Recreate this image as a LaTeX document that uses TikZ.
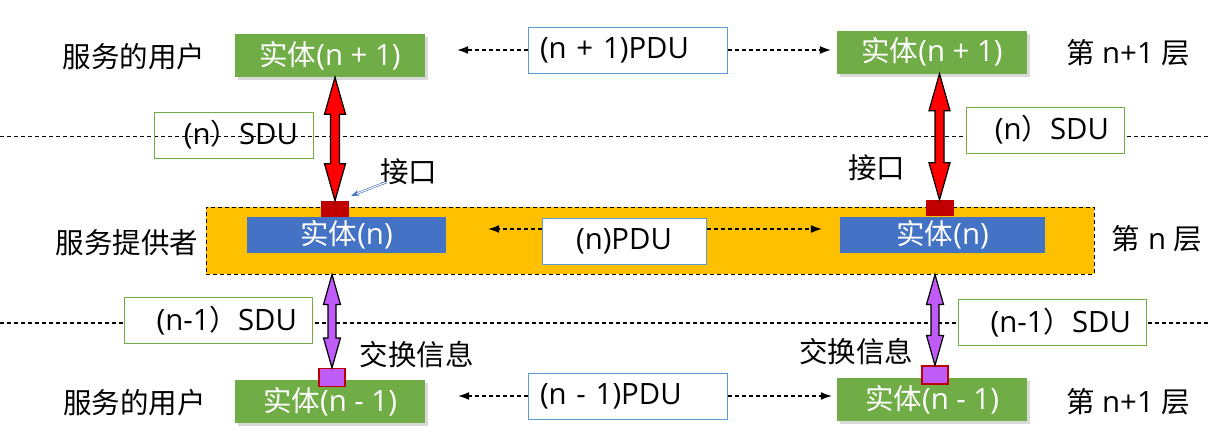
\documentclass[tikz,border=0pt]{standalone}
\usepackage{fontspec}
\setmainfont{Open Sans}[Scale=1.03]
\newfontfamily\cjk{Noto Sans CJK SC}
\usetikzlibrary{arrows.meta,calc,shadows}

\definecolor{entgreen}{HTML}{70AD47}
\definecolor{entblue}{HTML}{4472C4}
\definecolor{bandyellow}{HTML}{FFC000}
\definecolor{portred}{HTML}{C00000}
\definecolor{xpurple}{HTML}{BF5BF7}
\definecolor{pdublue}{HTML}{5B9BD5}

\newcommand{\txtfont}{\fontsize{28.5}{33}\selectfont}

% two-headed block arrow: #1 top, #2 bottom, #3 fill,
% #4 head half width, #5 head length, #6 shaft half width
\newcommand{\blockarrow}[6]{%
  \draw[fill=#3, line width=1.2pt, line join=miter] let \p1=(#1), \p2=(#2) in
    (\x1,\y1) -- (\x1+#4,\y1-#5) -- (\x1+#6,\y1-#5) -- (\x1+#6,\y2+#5)
    -- (\x1+#4,\y2+#5) -- (\x1,\y2) -- (\x1-#4,\y2+#5) -- (\x1-#6,\y2+#5)
    -- (\x1-#6,\y1-#5) -- (\x1-#4,\y1-#5) -- cycle;}

\tikzset{
  entity/.style={fill=entgreen, text=white, minimum width=190pt, minimum height=43pt,
    inner sep=0pt, font=\txtfont,
    drop shadow={shadow xshift=3pt, shadow yshift=-3pt, fill=black!15, opacity=1}},
  nentity/.style={fill=entblue, text=white, minimum height=36pt, inner sep=0pt, font=\txtfont},
  pdubox/.style={draw=pdublue, line width=1pt, fill=white, minimum height=46pt,
    inner sep=0pt, font=\txtfont},
  sdubox/.style={draw=entgreen, line width=1pt, minimum height=46pt, inner xsep=15pt,
    inner ysep=0pt, align=right, font=\txtfont},
  port/.style={fill=portred, minimum width=28pt, minimum height=16pt, inner sep=0pt},
  xport/.style={draw=portred, line width=1.2pt, fill=xpurple, minimum width=26pt,
    minimum height=18pt, inner sep=0pt},
  lbl/.style={inner sep=0pt, font=\txtfont},
  layerline/.style={dash pattern=on 4pt off 3pt, line width=1.2pt},
  pduflow/.style={-{Latex[length=11pt,width=8pt]}, dash pattern=on 4pt off 3pt, line width=1.1pt},
  ptr/.style={entblue, double=white, double distance=1pt, line width=0.6pt,
    -{Stealth[length=8pt,width=6pt]}}
}

\begin{document}
\begin{tikzpicture}[x=1pt, y=-1pt]
  \useasboundingbox (0,0) rectangle (1209,447);

  % layer borders
  \draw[layerline] (0,136.7) -- (1209,136.7);
  \draw[layerline] (0,323) -- (1209,323);

  % layer n+1
  \node[lbl] (userT) at (134,57) {\cjk 服务的用户};
  \node[entity] (ent1L) at (330,55.5) {{\cjk 实体}(n + 1)};
  \node[pdubox, align=left, text width=175pt, inner xsep=12pt] (pdu1) at (627.5,50) {(n + 1)PDU};
  \node[entity] (ent1R) at (932,52) {{\cjk 实体}(n + 1)};
  \node[lbl] (lay1) at (1128,53) {{\cjk 第} n+1 {\cjk 层}};

  \node[sdubox, text width=129pt] (sduTL) at (233.5,135) {(n{\cjk ）}SDU};
  \node[sdubox, fill=white, text width=128pt] (sduTR) at (1045,130) {(n{\cjk ）}SDU};

  % layer n
  \node[draw, fill=bandyellow, dash pattern=on 4pt off 3pt, line width=1pt,
    minimum width=888pt, minimum height=67pt] (band) at (650,240.5) {};
  \node[nentity, minimum width=199pt] (entNL) at (346.5,235) {{\cjk 实体}(n)};
  \node[nentity, minimum width=205pt] (entNR) at (942.5,235) {{\cjk 实体}(n)};
  \node[pdubox, minimum width=164pt] (pduN) at (624,241) {(n)PDU};
  \node[port] (ifL) at (335,209) {};
  \node[port] (ifR) at (939.5,208) {};
  \node[lbl] (ifLabL) at (408.5,172) {\cjk 接口};
  \node[lbl] (ifLabR) at (876.5,168) {\cjk 接口};
  \node[lbl] (prov) at (127,243) {\cjk 服务提供者};
  \node[lbl] (layN) at (1157,239) {{\cjk 第} n {\cjk 层}};

  % layer n-1
  \node[sdubox, fill=white, text width=158pt] (sduBL) at (218,320.5) {(n-1{\cjk ）}SDU};
  \node[sdubox, fill=white, text width=158pt] (sduBR) at (1052,322.5) {(n-1{\cjk ）}SDU};
  \node[entity] (ent0L) at (330,401.5) {{\cjk 实体}(n - 1)};
  \node[entity] (ent0R) at (932,399.5) {{\cjk 实体}(n - 1)};
  \node[pdubox, align=left, text width=175pt, inner xsep=12pt] (pdu0) at (627.5,396) {(n - 1)PDU};
  \node[xport] (exL) at (332,377.5) {};
  \node[xport] (exR) at (935,375) {};
  \node[lbl] (exLabL) at (416.5,355) {\cjk 交换信息};
  \node[lbl] (exLabR) at (856,352) {\cjk 交换信息};
  \node[lbl] (userB) at (134.5,403) {\cjk 服务的用户};
  \node[lbl] (lay0) at (1128,402) {{\cjk 第} n+1 {\cjk 层}};

  % peer protocol flows
  \draw[pduflow, shorten >=32pt] (pdu1.west) -- (pdu1.west -| ent1L.east);
  \draw[pduflow, shorten >=6pt] (pdu1.east) -- (pdu1.east -| ent1R.west);
  \draw[pduflow, shorten >=42pt] ([yshift=12pt]pduN.west) -- ([yshift=12pt]pduN.west -| entNL.east);
  \draw[pduflow, shorten >=18pt] ([yshift=12pt]pduN.east) -- ([yshift=12pt]pduN.east -| entNR.west);
  \draw[pduflow, shorten >=33pt] (pdu0.west) -- (pdu0.west -| ent0L.east);
  \draw[pduflow, shorten >=5pt] (pdu0.east) -- (pdu0.east -| ent0R.west);

  % service access
  \blockarrow{ifL.north |- ent1L.south}{ifL.north}{red}{10.5pt}{37pt}{4.5pt}
  \blockarrow{ifR.north |- ent1R.south}{ifR.north}{red}{10.5pt}{37pt}{4.5pt}
  \blockarrow{exL.north |- band.south}{exL.north}{xpurple}{8.5pt}{30pt}{4pt}
  \blockarrow{exR.north |- band.south}{exR.north}{xpurple}{8.5pt}{30pt}{4pt}

  \draw[ptr] ([xshift=6pt,yshift=3pt]ifLabL.south west) -- ([xshift=2pt,yshift=5pt]ifL.north east);
\end{tikzpicture}
\end{document}
